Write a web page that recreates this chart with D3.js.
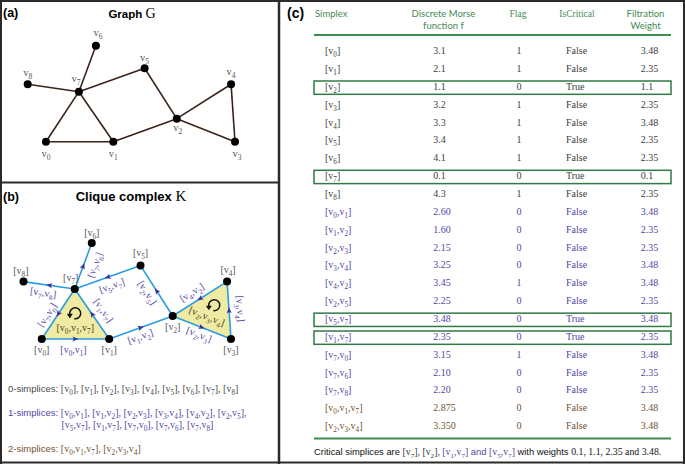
<!DOCTYPE html>
<html><head><meta charset="utf-8">
<script src="https://cdn.jsdelivr.net/npm/d3@7"></script>
<style>body{margin:0;background:#fff} svg{display:block}</style>
</head><body><svg id="c" width="685" height="464"></svg>
<script>
// ================= DATA =================
const vertexNames = ["0","1","2","3","4","5","6","7","8"];
// graph layout (abstract units 0..100)
const vertexX = [8.8, 41.3, 71.9, 100, 98.1, 56.4, 32.9, 24.7, 0];
const vertexY = [0, 0, 24, 0, 59.8, 76.5, 100, 52.1, 59.8];
const edgeList = [[0,1],[1,2],[2,3],[3,4],[4,2],[2,5],[5,7],[1,7],[7,0],[7,6],[7,8]];
const edgeArrowTo = [1,2,3,4,2,5,7,7,0,6,8];
const triangleList = [[0,1,7],[2,3,4]];

const simplexRows = [[0],[1],[2],[3],[4],[5],[6],[7],[8],
  [0,1],[1,2],[2,3],[3,4],[4,2],[2,5],[5,7],[1,7],[7,0],[7,6],[7,8],
  [0,1,7],[2,3,4]];
const morseValues = ["3.1","2.1","1.1","3.2","3.3","3.4","4.1","0.1","4.3",
  "2.60","1.60","2.15","3.25","3.45","2.25","3.48","2.35","3.15","2.10","2.20",
  "2.875","3.350"];
const flagValues = [1,1,0,1,1,1,1,0,1, 0,0,0,0,1,0,0,0,1,0,0, 0,0];
const criticalValues = [false,false,true,false,false,false,false,true,false,
  false,false,false,false,false,false,true,true,false,false,false, false,false];
const weightValues = ["3.48","2.35","1.1","2.35","3.48","2.35","2.35","0.1","2.35",
  "3.48","2.35","2.35","3.48","3.48","2.35","3.48","2.35","3.48","2.35","2.35",
  "3.48","3.48"];
const headerLines = [["Simplex"],["Discrete Morse","function f"],["Flag"],["IsCritical"],["Filtration","Weight"]];

// ================= STYLE / LAYOUT =================
const SANS = "'Liberation Sans', Arial, sans-serif";
const SERIF = "'Liberation Serif', 'Times New Roman', serif";
const HEADSANS = "Lato, 'Open Sans', sans-serif";
const GREEN = "#3f8a52", PURPLE = "#5346a6", BROWN = "#73502f", GREY = "#3c3c3c";
const BLUE = "#2a9de0", TRI = "#efeba2";

const svg = d3.select("#c");

function simplexTokens(verts){
  const t=[{t:"["}];
  verts.forEach((v,i)=>{ if(i>0) t.push({t:","}); t.push({t:"v"}); t.push({t:String(v),sub:true}); });
  t.push({t:"]"});
  return t;
}
function renderTokens(sel, tokens, fs){
  const shift = fs*0.3;
  let pending = 0;
  tokens.forEach(tok=>{
    const ts = sel.append("tspan").text(tok.t);
    if(tok.fill) ts.attr("fill", tok.fill);
    if(tok.family) ts.attr("font-family", tok.family);
    if(tok.size) ts.attr("font-size", tok.size);
    if(tok.sub){ ts.attr("dy", shift + pending).attr("font-size", fs*0.72); pending = -shift; }
    else { if(pending) ts.attr("dy", pending); pending = 0; }
  });
}

// ================= BORDERS =================
const border = svg.append("g").attr("stroke","#2b2b2b").attr("stroke-width",2);
border.append("line").attr("x1",0).attr("x2",685).attr("y1",1).attr("y2",1);
border.append("line").attr("x1",0).attr("x2",685).attr("y1",462.5).attr("y2",462.5);
border.append("line").attr("x1",1).attr("x2",1).attr("y1",0).attr("y2",464);
border.append("line").attr("x1",684).attr("x2",684).attr("y1",0).attr("y2",464);
border.append("line").attr("x1",279).attr("x2",279).attr("y1",0).attr("y2",464).attr("stroke-width",2.5);
border.append("line").attr("x1",0).attr("x2",279).attr("y1",182.5).attr("y2",182.5);

// ================= PANEL (a) =================
const xa = d3.scaleLinear().domain([0,100]).range([27.7,235]);
const ya = d3.scaleLinear().domain([0,100]).range([141.7,45.7]);
const labA = [[0,13],[0,13],[1,10],[2,13],[0,-12],[0,-10],[2,-12],[-3,-12],[0,-11]];

const ga = svg.append("g");
ga.append("text").attr("x",3).attr("y",17).attr("font-family",SANS).attr("font-weight","bold").attr("font-size",12.5).text("(a)");
const ta = ga.append("text").attr("x",132).attr("y",17.5).attr("text-anchor","middle").attr("font-family",SANS).attr("font-weight","bold").attr("font-size",11.5);
ta.append("tspan").text("Graph ");
ta.append("tspan").attr("font-family",SERIF).attr("font-weight","normal").attr("font-size",14).text("G");

ga.selectAll("line.e").data(edgeList).join("line")
  .attr("x1",d=>xa(vertexX[d[0]])).attr("y1",d=>ya(vertexY[d[0]]))
  .attr("x2",d=>xa(vertexX[d[1]])).attr("y2",d=>ya(vertexY[d[1]]))
  .attr("stroke","#3a2318").attr("stroke-width",1.6);
ga.selectAll("circle").data(vertexNames).join("circle")
  .attr("cx",(d,i)=>xa(vertexX[i])).attr("cy",(d,i)=>ya(vertexY[i])).attr("r",4).attr("fill","#000");
vertexNames.forEach((n,i)=>{
  const t = ga.append("text").attr("x",xa(vertexX[i])+labA[i][0]).attr("y",ya(vertexY[i])+labA[i][1]+2.5)
    .attr("text-anchor","middle").attr("font-family",SERIF).attr("font-size",10.5).attr("fill","#555");
  renderTokens(t,[{t:"v"},{t:n,sub:true}],10.5);
});

// ================= PANEL (b) =================
const xb = d3.scaleLinear().domain([0,100]).range([23.5,231]);
const yb = d3.scaleLinear().domain([0,100]).range([339,243]);
const labB = [[0,11],[0,11],[0,11],[0,11],[1,-12],[0,-13],[0,-10],[-4,-11],[-2.6,-11]];
// edge label offsets: [perpendicular, along]
const edgeLabOff = [[11,-2],[8.5,-3.6],[8,0],[-11.2,-0.9],[-9.4,-3.4],[9.3,-3.4],[9.6,1.1],[-11,3.6],[-8.5,-7],[10.9,5],[8.5,-4.8]];

const gb = svg.append("g");
gb.append("text").attr("x",3).attr("y",200.5).attr("font-family",SANS).attr("font-weight","bold").attr("font-size",12.5).text("(b)");
const tb = gb.append("text").attr("x",131).attr("y",201).attr("text-anchor","middle").attr("font-family",SANS).attr("font-weight","bold").attr("font-size",13);
tb.append("tspan").text("Clique complex ");
tb.append("tspan").attr("font-family",SERIF).attr("font-weight","normal").attr("font-size",15).text("K");

gb.selectAll("polygon").data(triangleList).join("polygon")
  .attr("points",d=>d.map(i=>[xb(vertexX[i]),yb(vertexY[i])].join(",")).join(" "))
  .attr("fill",TRI).attr("stroke","none");
gb.selectAll("line.e").data(edgeList).join("line")
  .attr("x1",d=>xb(vertexX[d[0]])).attr("y1",d=>yb(vertexY[d[0]]))
  .attr("x2",d=>xb(vertexX[d[1]])).attr("y2",d=>yb(vertexY[d[1]]))
  .attr("stroke",BLUE).attr("stroke-width",1.6);
// edge arrows
edgeList.forEach((e,k)=>{
  const to = edgeArrowTo[k], from = e[0]===to? e[1]:e[0];
  const x0=xb(vertexX[from]), y0=yb(vertexY[from]), x1=xb(vertexX[to]), y1=yb(vertexY[to]);
  const mx=(x0+x1)/2, my=(y0+y1)/2, ang=Math.atan2(y1-y0,x1-x0)*180/Math.PI;
  gb.append("path").attr("d","M3,0 L-3,-2.6 L-1.8,0 L-3,2.6 Z").attr("fill","#3d2f9a")
    .attr("transform",`translate(${mx},${my}) rotate(${ang})`);
});
// edge labels
edgeList.forEach((e,k)=>{
  const ax=xb(vertexX[e[0]]), ay=yb(vertexY[e[0]]), bx=xb(vertexX[e[1]]), by=yb(vertexY[e[1]]);
  let th = Math.atan2(by-ay,bx-ax)*180/Math.PI;
  if(th>90) th-=180; if(th<=-90) th+=180;
  const r = th*Math.PI/180;
  const [d,al] = edgeLabOff[k];
  const cx=(ax+bx)/2 + d*(-Math.sin(r)) + al*Math.cos(r);
  const cy=(ay+by)/2 + d*Math.cos(r) + al*Math.sin(r);
  const t = gb.append("text").attr("transform",`translate(${cx},${cy}) rotate(${th})`).attr("y",3)
    .attr("text-anchor","middle").attr("font-family",SERIF).attr("font-size",10).attr("fill",PURPLE);
  renderTokens(t, simplexTokens(e), 10);
});
// triangle labels + circular arrows
const triLab = [{dx:0,dy:6,rot:0,ax:0,ay:-9},{dx:-3.5,dy:4.5,rot:21.5,ax:4,ay:-7}];
triangleList.forEach((tri,k)=>{
  const cx=d3.mean(tri,i=>xb(vertexX[i])), cy=d3.mean(tri,i=>yb(vertexY[i]));
  const L=triLab[k];
  const t = gb.append("text").attr("transform",`translate(${cx+L.dx},${cy+L.dy}) rotate(${L.rot})`).attr("y",3)
    .attr("text-anchor","middle").attr("font-family",SERIF).attr("font-size",10).attr("fill","#4e4224");
  renderTokens(t, simplexTokens(tri), 10);
  const ox=cx+L.ax, oy=cy+L.ay, rr=5.5;
  const p=a=>[ox+rr*Math.cos(a*Math.PI/180), oy+rr*Math.sin(a*Math.PI/180)];
  const s=p(100), en=p(170);
  gb.append("path").attr("d",`M${s[0]},${s[1]} A${rr},${rr} 0 1 0 ${en[0]},${en[1]}`)
    .attr("fill","none").attr("stroke","#111").attr("stroke-width",1.5);
  gb.append("path").attr("d","M0,3.2 L-3,-1.5 L3,-1.5 Z").attr("fill","#111")
    .attr("transform",`translate(${en[0]},${en[1]+1})`);
});
gb.selectAll("circle").data(vertexNames).join("circle")
  .attr("cx",(d,i)=>xb(vertexX[i])).attr("cy",(d,i)=>yb(vertexY[i])).attr("r",4).attr("fill","#000");
vertexNames.forEach((n,i)=>{
  const t = gb.append("text").attr("x",xb(vertexX[i])+labB[i][0]).attr("y",yb(vertexY[i])+labB[i][1]+3)
    .attr("text-anchor","middle").attr("font-family",SERIF).attr("font-size",10).attr("fill","#555");
  renderTokens(t, simplexTokens([n]), 10);
});

// simplex lists
function listTokens(list){
  const toks=[];
  list.forEach((s,i)=>{ if(i>0) toks.push({t:", "}); simplexTokens(s).forEach(x=>toks.push(x)); });
  return toks;
}
const vertList = vertexNames.map((n,i)=>[i]);
const t0 = gb.append("text").attr("x",8).attr("y",392).attr("font-size",9.5).attr("fill","#4a4a4a").attr("font-family",SANS);
t0.append("tspan").text("0-simplices: ");
const t0b = t0.append("tspan").attr("font-family",SERIF).attr("font-size",10);
renderTokens(t0b, listTokens(vertList), 10);

const t1 = gb.append("text").attr("x",8).attr("y",416).attr("font-size",9.5).attr("fill",PURPLE).attr("font-family",SANS);
t1.append("tspan").text("1-simplices: ");
const t1b = t1.append("tspan").attr("font-family",SERIF).attr("font-size",10);
renderTokens(t1b, listTokens(edgeList.slice(0,6)).concat([{t:","}]), 10);
const t1c = gb.append("text").attr("x",61.5).attr("y",428).attr("font-size",10).attr("fill",PURPLE).attr("font-family",SERIF);
renderTokens(t1c, listTokens(edgeList.slice(6)), 10);

const t2 = gb.append("text").attr("x",8).attr("y",452).attr("font-size",9.5).attr("fill",BROWN).attr("font-family",SANS);
t2.append("tspan").text("2-simplices: ");
const t2b = t2.append("tspan").attr("font-family",SERIF).attr("font-size",10);
renderTokens(t2b, listTokens(triangleList), 10);

// ================= PANEL (c) =================
const gc = svg.append("g");
gc.append("text").attr("x",287).attr("y",18).attr("font-family",SANS).attr("font-weight","bold").attr("font-size",14).text("(c)");

const colX = [325, 433.3, 519, 566, 640.7];
const colAnchor = ["start","start","middle","start","start"];
const headX = [315, 443.5, 518, 577, 645.5];
const headAnchor = ["start","middle","middle","middle","middle"];
const headFont = [HEADSANS, HEADSANS, SERIF, SERIF, HEADSANS];
headerLines.forEach((lines,c)=>{
  lines.forEach((ln,j)=>{
    gc.append("text").attr("x",headX[c]).attr("y",17 + j*11.7).attr("text-anchor",headAnchor[c])
      .attr("font-family",headFont[c]).attr("font-size",9.5).attr("fill",GREEN).text(ln);
  });
});
gc.append("line").attr("x1",314).attr("x2",671).attr("y1",35).attr("y2",35).attr("stroke",GREEN).attr("stroke-width",2);
gc.append("line").attr("x1",314).attr("x2",671).attr("y1",438.5).attr("y2",438.5).attr("stroke",GREEN).attr("stroke-width",2);

const rowY = d3.scaleLinear().domain([0, simplexRows.length-1]).range([50.7, 425.7]);
const rowColor = s => s.length===1 ? GREY : (s.length===2 ? PURPLE : BROWN);
simplexRows.forEach((s,r)=>{
  const y = rowY(r)+3.4, col = rowColor(s);
  if(criticalValues[r]){
    gc.append("rect").attr("x",314).attr("y",rowY(r)-5.4).attr("width",357).attr("height",13.3)
      .attr("fill","none").attr("stroke","#2f7a45").attr("stroke-width",1.5);
  }
  const t = gc.append("text").attr("x",colX[0]).attr("y",y).attr("font-family",SERIF).attr("font-size",10).attr("fill",col);
  renderTokens(t, simplexTokens(s), 10);
  const vals = [morseValues[r], String(flagValues[r]), criticalValues[r]?"True":"False", weightValues[r]];
  vals.forEach((v,k)=>{
    gc.append("text").attr("x",colX[k+1]).attr("y",y).attr("text-anchor",colAnchor[k+1])
      .attr("font-family",SERIF).attr("font-size",10).attr("fill",col).text(v);
  });
});

// footer
const ft = gc.append("text").attr("x",314).attr("y",455).attr("font-family",SANS).attr("font-size",9.4).attr("fill","#111");
const ftoks = [{t:"Critical simplices are "}];
const crit = simplexRows.filter((s,r)=>criticalValues[r]);
// order as in caption: [v7], [v2], [v1,v7] and [v5,v7]
const critOrder = [crit[1], crit[0], crit[3], crit[2]];
critOrder.forEach((s,i)=>{
  const fill = s.length===1 ? "#333" : PURPLE;
  if(i===1 || i===2) ftoks.push({t:", ", family:SERIF, fill:"#333", size:9.8});
  if(i===3) ftoks.push({t:" and ", family:SANS, fill:PURPLE});
  simplexTokens(s).forEach(x=>ftoks.push(Object.assign({family:SERIF, fill, size:x.sub?undefined:9.8},x)));
});
ftoks.push({t:" with weights "});
const wts = critOrder.map(s=>weightValues[simplexRows.indexOf(s)]);
ftoks.push({t:`${wts[0]}, ${wts[1]}, ${wts[2]} and ${wts[3]}.`, family:SERIF, size:9.8});
renderTokens(ft, ftoks, 9.8);
</script></body></html>
